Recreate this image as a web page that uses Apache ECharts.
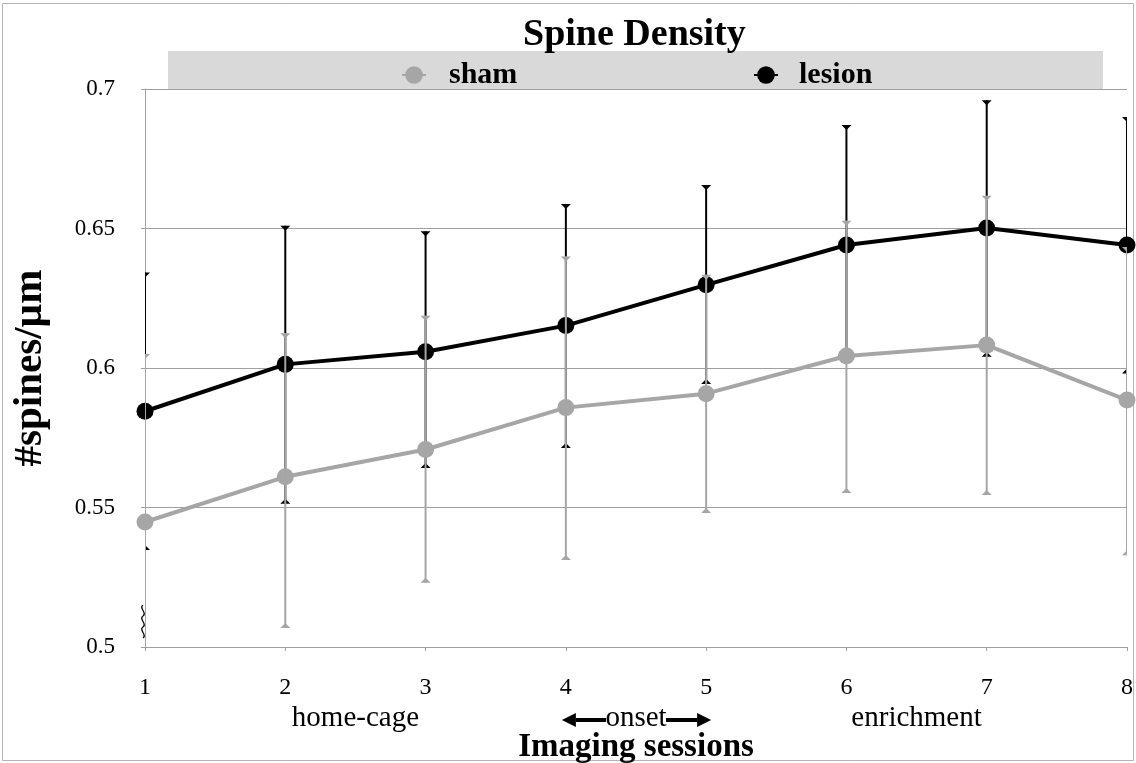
<!DOCTYPE html>
<html>
<head>
<meta charset="utf-8">
<script src="https://cdn.jsdelivr.net/npm/echarts@6/dist/echarts.min.js"></script>
<style>
  html, body { margin: 0; padding: 0; background: #fff; }
  #chart { width: 1136px; height: 763px; }
</style>
</head>
<body>
<div id="chart"></div>
<script>
// Imaging sessions on the x axis
const sessions = [1, 2, 3, 4, 5, 6, 7, 8];

// Spine density (spines per µm), mean with error bar ends
const shamMean  = [0.5448, 0.5610, 0.5708, 0.5858, 0.5908, 0.6043, 0.6082, 0.5885];
const shamUpper = [0.6050, 0.6125, 0.6187, 0.6400, 0.6334, 0.6528, 0.6617, 0.6434];
const shamLower = [0.4846, 0.5068, 0.5230, 0.5312, 0.5480, 0.5552, 0.5545, 0.5329];

const lesionMean  = [0.5845, 0.6013, 0.6058, 0.6152, 0.6298, 0.6441, 0.6502, 0.6441];
const lesionUpper = [0.6342, 0.6510, 0.6490, 0.6588, 0.6656, 0.6871, 0.6960, 0.6900];
const lesionLower = [0.5348, 0.5513, 0.5642, 0.5713, 0.5943, 0.6018, 0.6040, 0.5980];

// Value axis ticks
const yTicks = [0.5, 0.55, 0.6, 0.65, 0.7];
const xTicks = [1, 2, 3, 4, 5, 6, 7, 8];

// Experimental phases written under the session numbers
const phaseLabels = [
  { text: 'home-cage', at: 2.5 },
  { text: 'enrichment', at: 6.5 }
];
const onsetPhase = { text: 'onset', from: 4, to: 5 };

const FONT = '"Liberation Serif", "Times New Roman", serif';
const SHAM = '#a6a6a6';
const LESION = '#000000';

function pairs(xs, ys) { return xs.map((x, i) => [x, ys[i]]); }
function ranges(xs, lo, hi) { return xs.map((x, i) => [x, lo[i], hi[i]]); }

// Vertical error bar with arrow-head caps pointing towards the mean
function errorBar(color) {
  return function (params, api) {
    const x = api.value(0);
    const lo = api.coord([x, api.value(1)]);
    const hi = api.coord([x, api.value(2)]);
    const w = 5, h = 5;
    return {
      type: 'group',
      children: [
        { type: 'line', shape: { x1: lo[0], y1: lo[1], x2: hi[0], y2: hi[1] },
          style: { stroke: color, lineWidth: 2 } },
        { type: 'polygon', shape: { points: [[hi[0] - w, hi[1]], [hi[0] + w, hi[1]], [hi[0], hi[1] + h]] },
          style: { fill: color } },
        { type: 'polygon', shape: { points: [[lo[0] - w, lo[1]], [lo[0] + w, lo[1]], [lo[0], lo[1] - h]] },
          style: { fill: color } }
      ]
    };
  };
}

const chart = echarts.init(document.getElementById('chart'), null, { renderer: 'canvas' });

const legendText = { fontFamily: FONT, fontWeight: 'bold', fontSize: 30, color: '#000' };

const option = {
  backgroundColor: '#ffffff',
  animation: false,
  title: {
    text: 'Spine Density',
    left: 518,
    top: 11,
    textStyle: { fontFamily: FONT, fontWeight: 'bold', fontSize: 38, color: '#000' }
  },
  legend: [
    {
      data: ['sham'], left: 396, top: 55, itemWidth: 24, itemHeight: 22,
      textStyle: Object.assign({ padding: [0, 0, 0, 18] }, legendText)
    },
    {
      data: ['lesion'], left: 748, top: 55, itemWidth: 24, itemHeight: 22,
      textStyle: Object.assign({ padding: [0, 0, 0, 16] }, legendText)
    }
  ],
  grid: { left: 145, right: 9, top: 89, bottom: 116, containLabel: false, outerBoundsMode: 'none' },
  xAxis: {
    type: 'value',
    min: xTicks[0],
    max: xTicks[xTicks.length - 1],
    interval: 1,
    name: 'Imaging sessions',
    nameLocation: 'middle',
    nameGap: 84,
    nameTextStyle: { fontFamily: FONT, fontWeight: 'bold', fontSize: 33, color: '#000' },
    axisLine: { lineStyle: { color: '#a0a0a0', width: 1 } },
    axisTick: { show: true, length: 4, lineStyle: { color: '#a0a0a0' } },
    axisLabel: { fontFamily: FONT, fontSize: 24, color: '#000', margin: 29 },
    splitLine: { show: false }
  },
  yAxis: {
    type: 'value',
    min: yTicks[0],
    max: yTicks[yTicks.length - 1],
    interval: 0.05,
    name: '#spines/µm',
    nameLocation: 'middle',
    nameGap: 94,
    nameTextStyle: { fontFamily: FONT, fontWeight: 'bold', fontSize: 41, color: '#000' },
    axisLine: { show: true, lineStyle: { color: '#a0a0a0', width: 1 } },
    axisTick: { show: true, length: 4, lineStyle: { color: '#a0a0a0' } },
    axisLabel: { fontFamily: FONT, fontSize: 23, color: '#000', margin: 30 },
    splitLine: { show: true, lineStyle: { color: '#a0a0a0', width: 1 } }
  },
  series: [
    {
      name: 'lesion', type: 'line', data: pairs(sessions, lesionMean),
      symbol: 'circle', symbolSize: 17, color: LESION,
      lineStyle: { color: LESION, width: 4 }, itemStyle: { color: LESION },
      z: 3
    },
    {
      name: 'lesion-err', type: 'custom', data: ranges(sessions, lesionLower, lesionUpper),
      renderItem: errorBar(LESION), encode: { x: 0, y: [1, 2] }, clip: true, z: 4
    },
    {
      name: 'sham', type: 'line', data: pairs(sessions, shamMean),
      symbol: 'circle', symbolSize: 17, color: SHAM,
      lineStyle: { color: SHAM, width: 4 }, itemStyle: { color: SHAM },
      z: 5
    },
    {
      name: 'sham-err', type: 'custom', data: ranges(sessions, shamLower, shamUpper),
      renderItem: errorBar(SHAM), encode: { x: 0, y: [1, 2] }, clip: true, z: 6
    }
  ]
};

chart.setOption(option);

// Decorations placed from axis coordinates: legend band, phase labels, onset arrows, axis break
function px(x, y) { return chart.convertToPixel({ gridIndex: 0 }, [x, y]); }

const graphics = [];

// outer frame
graphics.push({
  type: 'rect', z: 0, silent: true,
  shape: { x: 2.5, y: 3.5, width: 1131, height: 757 },
  style: { fill: 'none', stroke: '#b4b4b4', lineWidth: 1 }
});

// legend band across the top of the plot
const topLeft = px(xTicks[0], yTicks[yTicks.length - 1]);
graphics.push({
  type: 'rect', z: -1, silent: true,
  shape: { x: 168, y: 51, width: 935, height: topLeft[1] - 51 },
  style: { fill: '#d9d9d9' }
});

const labelY = 718;
const labelFont = '29px ' + FONT;
phaseLabels.forEach(p => {
  const c = px(p.at, yTicks[0]);
  graphics.push({
    type: 'text', z: 10,
    style: { text: p.text, x: c[0], y: labelY, align: 'center', verticalAlign: 'middle',
      font: labelFont, fill: '#000' }
  });
});

// onset label with arrows running from session 4 to session 5
const a = px(onsetPhase.from, yTicks[0]);
const b = px(onsetPhase.to, yTicks[0]);
const mid = (a[0] + b[0]) / 2;
const halfText = 30;
graphics.push({
  type: 'text', z: 10,
  style: { text: onsetPhase.text, x: mid, y: labelY, align: 'center', verticalAlign: 'middle',
    font: labelFont, fill: '#000' }
});
const ay = labelY + 2;
const head = 14, hh = 7;
graphics.push(
  { type: 'line', z: 10, shape: { x1: a[0] - 4 + head, y1: ay, x2: mid - halfText, y2: ay },
    style: { stroke: '#000', lineWidth: 4 } },
  { type: 'polygon', z: 10, shape: { points: [[a[0] - 4, ay], [a[0] - 4 + head, ay - hh], [a[0] - 4 + head, ay + hh]] },
    style: { fill: '#000' } },
  { type: 'line', z: 10, shape: { x1: mid + halfText, y1: ay, x2: b[0] + 5 - head, y2: ay },
    style: { stroke: '#000', lineWidth: 4 } },
  { type: 'polygon', z: 10, shape: { points: [[b[0] + 5, ay], [b[0] + 5 - head, ay - hh], [b[0] + 5 - head, ay + hh]] },
    style: { fill: '#000' } }
);

// wavy axis-break mark near the bottom of the y axis
const base = px(xTicks[0], yTicks[0]);
const bx = base[0] - 2, by0 = base[1] - 9, seg = 11;
for (let i = 0; i < 3; i++) {
  const y0 = by0 - i * seg;
  graphics.push({
    type: 'bezierCurve', z: 10, silent: true,
    shape: { x1: bx, y1: y0, cpx1: bx + 5, cpy1: y0 - seg * 0.3, cpx2: bx - 5, cpy2: y0 - seg * 0.7, x2: bx, y2: y0 - seg },
    style: { fill: 'none', stroke: '#000', lineWidth: 1.3 }
  });
}

chart.setOption({ graphic: graphics });
</script>
</body>
</html>
